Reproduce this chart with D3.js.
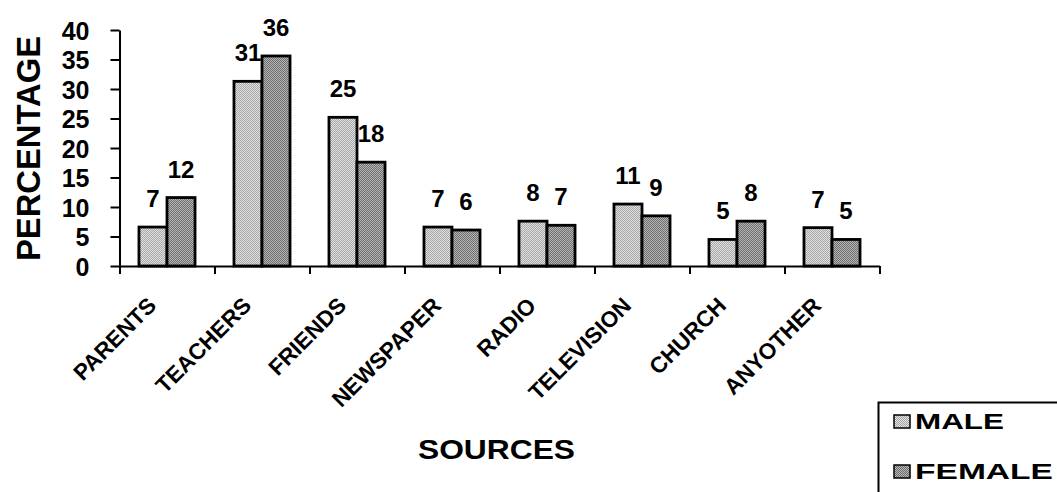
<!DOCTYPE html>
<html>
<head>
<meta charset="utf-8">
<script src="https://cdn.jsdelivr.net/npm/d3@7"></script>
<style>
  html, body { margin: 0; padding: 0; background: #fff; }
  svg { display: block; }
  text { font-family: "Liberation Sans", Arial, sans-serif; font-weight: bold; fill: #000; }
</style>
</head>
<body>
<svg id="chart" width="1057" height="492"></svg>
<script>
const categories = ["PARENTS", "TEACHERS", "FRIENDS", "NEWSPAPER", "RADIO", "TELEVISION", "CHURCH", "ANYOTHER"];
const seriesNames = ["MALE", "FEMALE"];
const maleValues = [6.6, 31.3, 25.2, 6.6, 7.6, 10.5, 4.5, 6.5];
const femaleValues = [11.6, 35.6, 17.6, 6.1, 6.9, 8.5, 7.6, 4.5];
const yTicks = [0, 5, 10, 15, 20, 25, 30, 35, 40];
const yTitle = "PERCENTAGE";
const xTitle = "SOURCES";

(function () {
const svg = d3.select("#chart");
const defs = svg.append("defs");

function stipple(id, light, dark) {
  const p = defs.append("pattern").attr("id", id).attr("width", 2).attr("height", 2)
    .attr("patternUnits", "userSpaceOnUse");
  p.append("rect").attr("width", 2).attr("height", 2).attr("fill", light);
  p.append("rect").attr("width", 1).attr("height", 1).attr("fill", dark);
  p.append("rect").attr("x", 1).attr("y", 1).attr("width", 1).attr("height", 1).attr("fill", dark);
}
stipple("pMale", "#e4e4e4", "#a4a4a4");
stipple("pFemale", "#b8b8b8", "#6c6c6c");
const fills = { MALE: "url(#pMale)", FEMALE: "url(#pFemale)" };

const plotLeft = 119.5, plotRight = 879.5, plotTop = 30, plotBottom = 266;

const x = d3.scaleBand().domain(categories).range([plotLeft, plotRight]).paddingInner(0.41).paddingOuter(0.205);
const xs = d3.scaleBand().domain(seriesNames).range([0, x.bandwidth()]).padding(0);
const y = d3.scaleLinear().domain([0, 40]).range([plotBottom, plotTop]);

const rows = categories.map((c, i) => ({ cat: c, MALE: maleValues[i], FEMALE: femaleValues[i] }));

// Bars
const groups = svg.append("g").selectAll("g").data(rows).join("g")
  .attr("transform", d => `translate(${x(d.cat)},0)`);
groups.selectAll("rect").data(d => seriesNames.map(s => ({ s, v: d[s] }))).join("rect")
  .attr("x", d => xs(d.s))
  .attr("y", d => y(d.v))
  .attr("width", xs.bandwidth())
  .attr("height", d => y(0) - y(d.v))
  .attr("fill", d => fills[d.s])
  .attr("stroke", "#000").attr("stroke-width", 2.8);

// Value labels
groups.selectAll("text").data(d => seriesNames.map(s => ({ s, v: d[s] }))).join("text")
  .attr("x", d => xs(d.s) + xs.bandwidth() / 2)
  .attr("y", d => y(d.v) - 20)
  .attr("text-anchor", "middle")
  .style("font-size", "24px")
  .text(d => Math.round(d.v));

// Y axis
const yAxis = svg.append("g").attr("transform", `translate(${plotLeft},0)`)
  .call(d3.axisLeft(y).tickValues(yTicks).tickSize(9).tickSizeOuter(0).tickPadding(21));
yAxis.select(".domain").attr("stroke", "#000").attr("stroke-width", 2);
yAxis.selectAll(".tick line").attr("stroke", "#000").attr("stroke-width", 2);
yAxis.selectAll(".tick text").attr("dy", "0.36em")
  .style("font-size", "25px").style("font-family", "'Liberation Sans', Arial, sans-serif").style("font-weight", "bold");

// X axis (boundary ticks)
const xb = d3.scaleLinear().domain([0, categories.length]).range([plotLeft, plotRight]);
const xAxis = svg.append("g").attr("transform", `translate(0,${plotBottom})`)
  .call(d3.axisBottom(xb).tickValues(d3.range(categories.length + 1)).tickFormat("").tickSize(8).tickSizeOuter(0));
xAxis.select(".domain").attr("stroke", "#000").attr("stroke-width", 2);
xAxis.selectAll(".tick line").attr("stroke", "#000").attr("stroke-width", 2);

// Category labels
svg.append("g").selectAll("text").data(categories).join("text")
  .attr("transform", d => `translate(${x(d) + x.bandwidth() / 2 - 9.5},307) rotate(-45)`)
  .attr("text-anchor", "end")
  .style("font-size", "22.5px")
  .text(d => d);

// Axis titles
svg.append("text")
  .attr("transform", `translate(40,${(plotTop + plotBottom) / 2 + 0.5}) rotate(-90)`)
  .attr("text-anchor", "middle")
  .attr("textLength", 225).attr("lengthAdjust", "spacingAndGlyphs")
  .style("font-size", "33px")
  .text(yTitle);

svg.append("text")
  .attr("x", 418).attr("y", 459)
  .attr("textLength", 157).attr("lengthAdjust", "spacingAndGlyphs")
  .style("font-size", "28px")
  .text(xTitle);

// Legend
const lg = svg.append("g");
lg.append("rect").attr("x", 878.5).attr("y", 402.5).attr("width", 200).attr("height", 120)
  .attr("fill", "#fff").attr("stroke", "#000").attr("stroke-width", 2);
const legendRows = [{ s: "MALE", base: 429, len: 89 }, { s: "FEMALE", base: 479, len: 138 }];
legendRows.forEach(r => {
  lg.append("rect").attr("x", 894).attr("y", r.base - 14).attr("width", 16).attr("height", 13)
    .attr("fill", fills[r.s]).attr("stroke", "#000").attr("stroke-width", 1.5);
  lg.append("text").attr("x", 915).attr("y", r.base)
    .attr("textLength", r.len).attr("lengthAdjust", "spacingAndGlyphs")
    .style("font-size", "22px").text(r.s);
});
})();
</script>
</body>
</html>
